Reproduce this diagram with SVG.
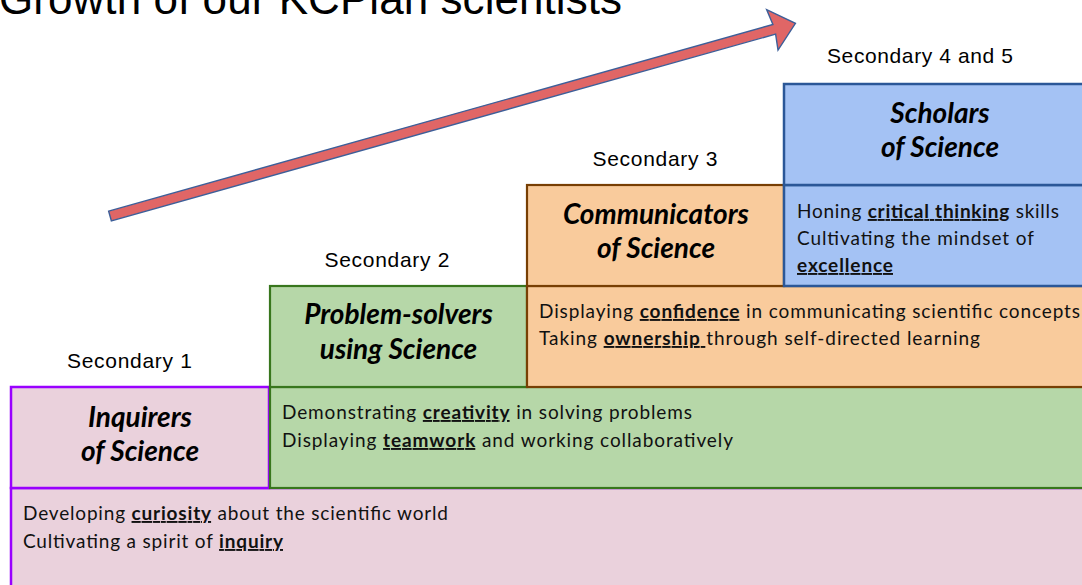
<svg xmlns="http://www.w3.org/2000/svg" width="1082" height="585" viewBox="0 0 1082 585">
<style>
.title{font-family:"Liberation Sans",Arial,sans-serif;font-size:44px;fill:#000}
.sec{font-family:"Liberation Sans",Arial,sans-serif;font-size:21px;fill:#000;text-anchor:middle}
.hd{font-family:Lato,"Open Sans",sans-serif;font-size:28px;font-weight:bold;font-style:italic;fill:#000;text-anchor:middle}
.ds{font-family:Lato,"Open Sans",sans-serif;font-size:19px;fill:#111}
.b{font-weight:bold;text-decoration:underline}
.pink{fill:#ead1dc;stroke:#9900ff;stroke-width:2.5}
.green{fill:#b6d7a8;stroke:#38761d;stroke-width:2.2}
.orange{fill:#f9cb9c;stroke:#783f04;stroke-width:2.2}
.blue{fill:#a4c2f4;stroke:#2b5797;stroke-width:2.5}
</style>
<rect width="1082" height="585" fill="#ffffff"/>
<text class="title" x="-1" y="14" textLength="623">Growth of our KCPian scientists</text>

<g id="connectors">
<g transform="translate(110,216) rotate(-15.7)">
<polygon points="0,-5 690,-5 688,-21 712,0 688,21 690,5 0,5" fill="#e06666" stroke="#3d5f99" stroke-width="1.4" stroke-linejoin="miter"/>
</g>
</g>

<g id="sec1-desc">
<rect class="pink" x="11" y="488" width="1080" height="110"/>
<text class="ds" x="23" y="520" textLength="425">Developing <tspan class="b">curiosity</tspan> about the scientific world</text>
<text class="ds" x="23" y="548" textLength="260">Cultivating a spirit of <tspan class="b">inquiry</tspan></text>
</g>
<g id="sec1">
<rect class="pink" x="11" y="387" width="258" height="101"/>
<text class="hd" x="140" y="427">Inquirers</text>
<text class="hd" x="140" y="461">of Science</text>
<text class="sec" x="129.5" y="368" textLength="125">Secondary 1</text>
</g>

<g id="sec2-desc">
<rect class="green" x="270" y="387" width="820" height="101"/>
<text class="ds" x="282" y="419" textLength="410">Demonstrating <tspan class="b">creativity</tspan> in solving problems</text>
<text class="ds" x="282" y="447" textLength="451">Displaying <tspan class="b">teamwork</tspan> and working collaboratively</text>
</g>
<g id="sec2">
<rect class="green" x="270" y="286" width="257" height="101"/>
<text class="hd" x="398.5" y="324">Problem-solvers</text>
<text class="hd" x="398.5" y="359">using Science</text>
<text class="sec" x="387" y="267" textLength="125">Secondary 2</text>
</g>

<g id="sec3-desc">
<rect class="orange" x="527" y="286" width="563" height="101"/>
<text class="ds" x="539" y="318" textLength="541">Displaying <tspan class="b">confidence</tspan> in communicating scientific concepts</text>
<text class="ds" x="539" y="345" textLength="441">Taking <tspan class="b">ownership </tspan>through self-directed learning</text>
</g>
<g id="sec3">
<rect class="orange" x="527" y="185" width="257" height="101"/>
<text class="hd" x="656" y="224">Communicators</text>
<text class="hd" x="656" y="258">of Science</text>
<text class="sec" x="655" y="166" textLength="125">Secondary 3</text>
</g>

<g id="sec45-desc">
<rect class="blue" x="784" y="185" width="306" height="101"/>
<text class="ds" x="797" y="218" textLength="262">Honing <tspan class="b">critical thinking</tspan> skills</text>
<text class="ds" x="797" y="245" textLength="237">Cultivating the mindset of</text>
<text class="ds" x="797" y="272" textLength="96"><tspan class="b">excellence</tspan></text>
</g>
<g id="sec45">
<rect class="blue" x="784" y="84" width="306" height="101"/>
<text class="hd" x="940" y="123">Scholars</text>
<text class="hd" x="940" y="157">of Science</text>
<text class="sec" x="920" y="63" textLength="186">Secondary 4 and 5</text>
</g>
</svg>
